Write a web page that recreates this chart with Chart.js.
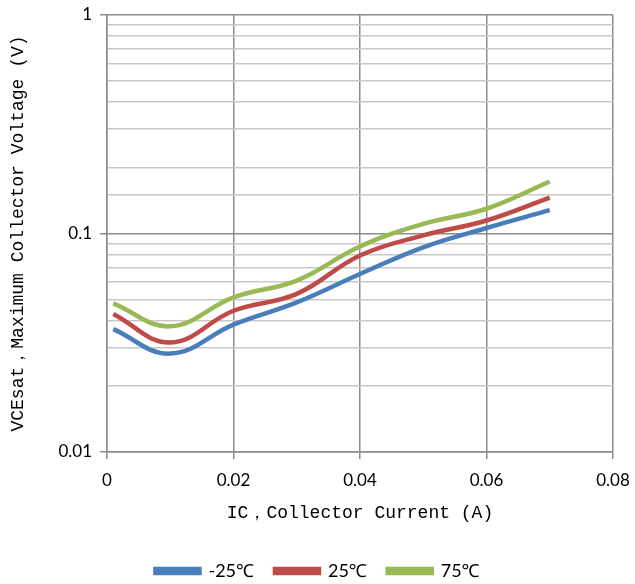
<!DOCTYPE html>
<html>
<head>
<meta charset="utf-8">
<script src="https://cdn.jsdelivr.net/npm/chart.js@4"></script>
<style>
  html, body { margin: 0; padding: 0; background: #fff; }
  #wrap { width: 635px; height: 584px; }
</style>
</head>
<body>
<div id="wrap"><canvas id="vceChart" width="635" height="584"></canvas></div>
<script>
// collector current (A)
const currents = [0.001, 0.01, 0.02, 0.03, 0.04, 0.05, 0.06, 0.07];
// VCEsat (V) per temperature
const vceMinus25 = [0.0365, 0.0282, 0.0383, 0.0484, 0.0653, 0.0865, 0.106, 0.128];
const vce25 = [0.0428, 0.0317, 0.0443, 0.0529, 0.0793, 0.098, 0.1147, 0.146];
const vce75 = [0.0479, 0.0376, 0.051, 0.0609, 0.0872, 0.1107, 0.1298, 0.173];
const seriesNames = ['-25℃', '25℃', '75℃'];
const xTicks = [0, 0.02, 0.04, 0.06, 0.08];
const yLabels = [0.01, 0.1, 1];

const colors = ['#4A7EBB', '#BE4B48', '#98B954'];
const tickFont = { family: 'Lato, "Open Sans", sans-serif', size: 17 };
const titleFont = { family: '"Liberation Mono", monospace', size: 18 };

function toPoints(vals) {
    return currents.map(function(x, i) { return { x: x, y: vals[i] }; });
}

function isDecade(v) {
    return yLabels.some(function(d) { return Math.abs(v - d) < d * 1e-6; });
}

const datasets = [vceMinus25, vce25, vce75].map(function(vals, i) {
    return {
        label: seriesNames[i],
        data: toPoints(vals),
        borderColor: colors[i],
        backgroundColor: colors[i],
        borderWidth: 4.5,
        pointRadius: 0,
        tension: 0.4,
        fill: false
    };
});

new Chart(document.getElementById('vceChart').getContext('2d'), {
    type: 'line',
    data: { datasets: datasets },
    options: {
        responsive: false,
        animation: false,
        // small negative bottom padding sets the legend row close to the edge
        layout: { padding: { top: 15, right: 0, left: 0, bottom: -6 } },
        plugins: {
            tooltip: { enabled: false },
            legend: {
                position: 'bottom',
                labels: {
                    boxWidth: 44,
                    boxHeight: 4,
                    padding: 21,
                    color: '#000',
                    font: { family: 'Lato, "Noto Sans", sans-serif', size: 18 }
                }
            }
        },
        scales: {
            x: {
                type: 'linear',
                min: 0,
                max: 0.08,
                afterBuildTicks: function(scale) {
                    scale.ticks = xTicks.map(function(v) { return { value: v }; });
                },
                afterFit: function(scale) {
                    scale.height = 89;
                    scale.paddingRight = 22;
                },
                ticks: {
                    color: '#000',
                    font: tickFont,
                    padding: 11,
                    maxRotation: 0,
                    callback: function(v) { return String(v); }
                },
                grid: { color: '#8c8c8c', lineWidth: 1.5, tickLength: 7, tickColor: '#8c8c8c' },
                border: { color: '#8c8c8c', width: 1.5 },
                title: { display: true, text: 'IC，Collector Current (A)', color: '#000', font: titleFont, padding: { top: 4, bottom: 17 } }
            },
            y: {
                type: 'logarithmic',
                min: 0.01,
                max: 1,
                afterFit: function(scale) {
                    scale.width = 107;
                    scale.paddingTop = 0;
                    scale.paddingBottom = 0;
                },
                ticks: {
                    color: '#000',
                    font: tickFont,
                    padding: 8,
                    autoSkip: false,
                    callback: function(v) { return isDecade(v) ? String(v) : ''; }
                },
                grid: {
                    lineWidth: 1.5,
                    tickLength: 7,
                    color: function(ctx) { return ctx.tick && isDecade(ctx.tick.value) ? '#8c8c8c' : '#c8c8c8'; },
                    tickColor: function(ctx) { return ctx.tick && isDecade(ctx.tick.value) ? '#8c8c8c' : 'rgba(0,0,0,0)'; }
                },
                border: { color: '#8c8c8c', width: 1.5 },
                title: { display: true, text: 'VCEsat，Maximum Collector Voltage (V)', color: '#000', font: titleFont, padding: { top: 7, bottom: 4 } }
            }
        }
    }
});
</script>
</body>
</html>
